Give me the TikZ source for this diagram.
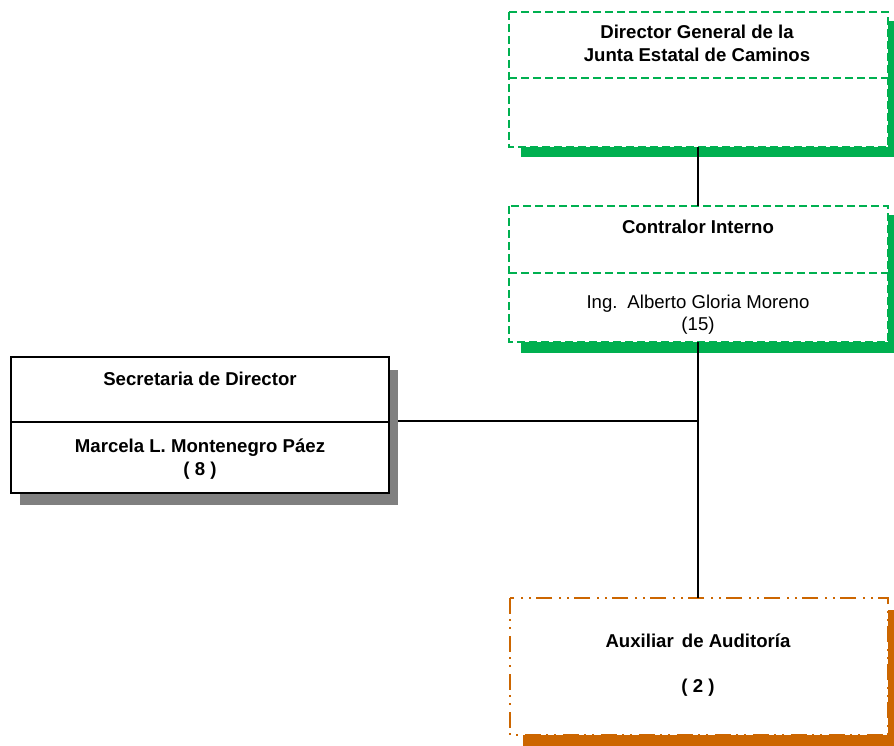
\documentclass[tikz,border=0pt]{standalone}
\usepackage{fontspec}
\setmainfont{Liberation Sans}
\definecolor{bgreen}{HTML}{00B050}
\definecolor{borange}{HTML}{CC6600}
\definecolor{sgray}{HTML}{808080}
\begin{document}
\begin{tikzpicture}[x=1pt,y=-1pt]
\tikzset{
  greenbox/.style={draw=bgreen,line width=1.2pt,dash pattern=on 8pt off 4pt,fill=white},
  orangebox/.style={draw=borange,line width=1.2pt,dash pattern=on 16pt off 5pt on 2pt off 6pt on 2pt off 7pt,fill=white},
  blackbox/.style={draw=black,line width=1.3pt,fill=white},
  lbl/.style={align=center,font=\fontsize{18.6}{22.6}\selectfont,inner sep=0pt},
  blbl/.style={lbl,font=\fontsize{18.6}{22.6}\selectfont\bfseries},
  conn/.style={draw=black,line width=1.2pt}
}
\useasboundingbox (0,0) rectangle (894,746);
% shadows
\fill[bgreen] (521,21) rectangle (900,157);
\fill[bgreen] (521,215) rectangle (900,353);
\fill[sgray] (20,370) rectangle (398,505);
\fill[borange] (523,610) rectangle (900,747);
% boxes
\path[greenbox] (509,12) rectangle (888,147);
\draw[greenbox] (509,78) -- (888,78);
\path[greenbox] (509,206) rectangle (888,342);
\draw[greenbox] (509,273) -- (888,273);
\path[blackbox] (11,357) rectangle (389,493);
\draw[blackbox] (11,422) -- (389,422);
\path[orangebox] (510,598) rectangle (888,735);
% named nodes
\coordinate (dirB) at (698,147);
\coordinate (conT) at (698,206);
\coordinate (conB) at (698,342);
\coordinate (auxT) at (698,598);
\coordinate (secR) at (398,421);
\coordinate (junc) at (698,421);
\node[blbl] (dirT) at (697,43.5) {Director General de la\\Junta Estatal de Caminos};
\node[blbl] (conN) at (698,227) {Contralor Interno};
\node[lbl] (conP) at (698,314.5) {Ing.\hspace{3pt} Alberto Gloria Moreno\\(15)};
\node[blbl] (secN) at (200,379) {Secretaria de Director};
\node[blbl] (secP) at (200,459) {Marcela L. Montenegro Páez\\( 8 )};
\node[blbl] (auxN) at (698,641) {Auxiliar\hspace{3pt} de Auditoría};
\node[blbl] (auxP) at (698,688) {( 2 )};
% connectors
\draw[conn] (dirB) -- (conT);
\draw[conn] (conB) -- (auxT);
\draw[conn] (secR) -- (junc);
\end{tikzpicture}
\end{document}
